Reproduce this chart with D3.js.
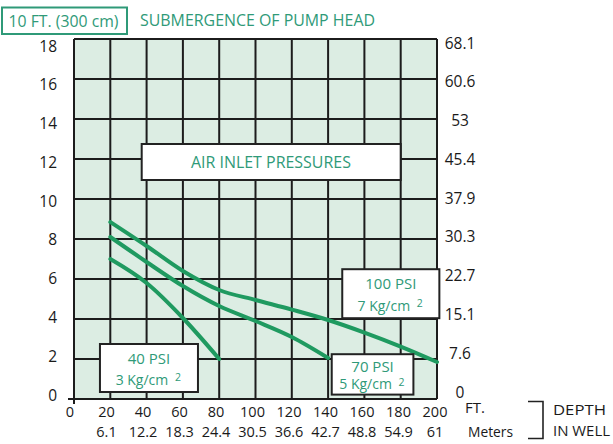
<!DOCTYPE html>
<html>
<head>
<meta charset="utf-8">
<script src="https://cdn.jsdelivr.net/npm/d3@7"></script>
<style>
  html, body { margin: 0; padding: 0; background: #ffffff; }
  svg { display: block; }
  text { font-family: "Open Sans", "Noto Sans", sans-serif; }
</style>
</head>
<body>
<svg id="chart" width="613" height="444"></svg>
<script>
// ---- data ----
const depthFt = [0, 20, 40, 60, 80, 100, 120, 140, 160, 180, 200];
const depthFtLabels = ["0", "20", "40", "60", "80", "100", "120", "140", "160", "180", "200"];
const depthMLabels = ["", "6.1", "12.2", "18.3", "24.4", "30.5", "36.6", "42.7", "48.8", "54.9", "61"];
const headTicks = [0, 2, 4, 6, 8, 10, 12, 14, 16, 18];
const headRightLabels = ["0", "7.6", "15.1", "22.7", "30.3", "37.9", "45.4", "53", "60.6", "68.1"];

const psi40Depth = [20, 40, 60, 80];
const psi40Head = [7.0, 5.8, 4.05, 2.0];
const psi70Depth = [20, 40, 60, 80, 100, 120, 140];
const psi70Head = [8.1, 6.85, 5.65, 4.65, 3.9, 3.1, 2.05];
const psi100Depth = [20, 40, 60, 80, 100, 120, 140, 160, 180, 200];
const psi100Head = [8.85, 7.65, 6.4, 5.45, 4.95, 4.47, 3.95, 3.32, 2.62, 1.85];

const seriesNames = ["40 PSI", "70 PSI", "100 PSI"];
const seriesUnits = ["3 Kg/cm", "5 Kg/cm", "7 Kg/cm"];

// ---- layout ----
const svg = d3.select("#chart");
const x = d3.scaleLinear().domain([0, 200]).range([74, 437]);
const y = d3.scaleLinear().domain([0, 18]).range([399, 39]);
// label placement scales (labels in the original sit slightly off the grid)
const xLab = d3.scaleLinear().domain([0, 200]).range([70, 435]);
const yLabL = d3.scaleLinear().domain([0, 18]).range([395, 46]);
const yLabR = d3.scaleLinear().domain([0, 18]).range([392, 43]);

const teal = "#2f9a78";
const lineGreen = "#1f9a60";
const gridCol = "#1c1c1c";
const ink = "#1a1a1a";

svg.append("rect").attr("width", 613).attr("height", 444).attr("fill", "#fff");

// plot background
svg.append("rect")
  .attr("x", x(0)).attr("y", y(18))
  .attr("width", x(200) - x(0)).attr("height", y(0) - y(18))
  .attr("fill", "#dcede3");

// grid
const g = svg.append("g").attr("stroke", gridCol).attr("stroke-width", 2);
g.selectAll("line.v").data(depthFt).join("line")
  .attr("x1", d => x(d)).attr("x2", d => x(d))
  .attr("y1", y(18)).attr("y2", y(0));
g.selectAll("line.h").data(headTicks).join("line")
  .attr("x1", x(0)).attr("x2", x(200))
  .attr("y1", d => y(d)).attr("y2", d => y(d));
// axis extensions
g.append("line").attr("x1", x(0) - 6).attr("x2", x(0)).attr("y1", y(0)).attr("y2", y(0));
g.append("line").attr("x1", x(0)).attr("x2", x(0)).attr("y1", y(0)).attr("y2", y(0) + 5);

// curves
const lineGen = d3.line().x(d => x(d[0])).y(d => y(d[1])).curve(d3.curveMonotoneX);
const series = [
  d3.zip(psi40Depth, psi40Head),
  d3.zip(psi70Depth, psi70Head),
  d3.zip(psi100Depth, psi100Head)
];
svg.append("g").selectAll("path").data(series).join("path")
  .attr("d", lineGen)
  .attr("fill", "none")
  .attr("stroke", lineGreen)
  .attr("stroke-width", 4)
  .attr("stroke-linecap", "round")
  .attr("stroke-linejoin", "round");

// annotation boxes (positions in data units)
function box(x0, x1, y0, y1) {
  svg.append("rect")
    .attr("x", x(x0)).attr("y", y(y1))
    .attr("width", x(x1) - x(x0)).attr("height", y(y0) - y(y1))
    .attr("fill", "#fff").attr("stroke", "#222").attr("stroke-width", 2);
}
box(37.3, 180, 10.95, 12.75);
svg.append("text").attr("x", x(108.5)).attr("y", y(11.85)).attr("dy", "0.35em")
  .attr("text-anchor", "middle").attr("fill", teal).attr("font-size", 16.5)
  .attr("textLength", 160).attr("lengthAdjust", "spacingAndGlyphs")
  .text("AIR INLET PRESSURES");

const psiBoxes = [
  { x0: 14.3, x1: 68.3, y0: 0.35, y1: 2.75 },
  { x0: 142, x1: 187, y0: 0.22, y1: 2.24 },
  { x0: 147.8, x1: 201.3, y0: 4.04, y1: 6.49 }
];
psiBoxes.forEach((b, i) => {
  box(b.x0, b.x1, b.y0, b.y1);
  const cx = x((b.x0 + b.x1) / 2);
  const top = y(b.y1), bot = y(b.y0);
  const h = bot - top;
  svg.append("text").attr("x", cx).attr("y", top + h * 0.30).attr("dy", "0.35em")
    .attr("text-anchor", "middle").attr("fill", teal).attr("font-size", 15)
    .text(seriesNames[i]);
  svg.append("text").attr("x", cx - 7).attr("y", top + h * 0.75).attr("dy", "0.35em")
    .attr("text-anchor", "middle").attr("fill", teal).attr("font-size", 14)
    .text(seriesUnits[i]);
  svg.append("text").attr("x", cx + 29).attr("y", top + h * 0.70).attr("dy", "0.35em")
    .attr("text-anchor", "middle").attr("fill", teal).attr("font-size", 10.5)
    .text("2");
});

// left axis labels
svg.append("g").selectAll("text").data(headTicks).join("text")
  .attr("x", 57).attr("y", d => yLabL(d)).attr("dy", "0.36em")
  .attr("text-anchor", "end").attr("font-size", 15.5).attr("fill", ink)
  .text(d => d);

// right axis labels
svg.append("g").selectAll("text").data(headTicks).join("text")
  .attr("x", 460).attr("y", d => yLabR(d)).attr("dy", "0.36em")
  .attr("text-anchor", "middle").attr("font-size", 15.5).attr("fill", ink)
  .text((d, i) => headRightLabels[i]);

// bottom labels
svg.append("g").selectAll("text").data(depthFt).join("text")
  .attr("x", d => xLab(d)).attr("y", 411.5).attr("dy", "0.36em")
  .attr("text-anchor", "middle").attr("font-size", 14.5).attr("fill", ink)
  .text((d, i) => depthFtLabels[i]);
svg.append("g").selectAll("text").data(depthFt).join("text")
  .attr("x", d => xLab(d)).attr("y", 431.5).attr("dy", "0.36em")
  .attr("text-anchor", "middle").attr("font-size", 14.5).attr("fill", ink)
  .text((d, i) => depthMLabels[i]);

svg.append("text").attr("x", 465).attr("y", 408).attr("dy", "0.36em")
  .attr("font-size", 15).attr("fill", ink).text("FT.");
svg.append("text").attr("x", 468).attr("y", 431.5).attr("dy", "0.36em")
  .attr("font-size", 15).attr("fill", ink).attr("textLength", 45)
  .attr("lengthAdjust", "spacingAndGlyphs").text("Meters");

// bracket
svg.append("path").attr("d", "M528,401.5 H543 V438.5 H528")
  .attr("fill", "none").attr("stroke", "#222").attr("stroke-width", 1.6);
svg.append("text").attr("x", 553).attr("y", 409.5).attr("dy", "0.36em")
  .attr("font-size", 15).attr("fill", ink).attr("textLength", 53)
  .attr("lengthAdjust", "spacingAndGlyphs").text("DEPTH");
svg.append("text").attr("x", 553).attr("y", 431).attr("dy", "0.36em")
  .attr("font-size", 15).attr("fill", ink).attr("textLength", 57)
  .attr("lengthAdjust", "spacingAndGlyphs").text("IN WELL");

// header
svg.append("rect").attr("x", 2).attr("y", 7.5).attr("width", 125).attr("height", 26.5)
  .attr("fill", "#fff").attr("stroke", teal).attr("stroke-width", 2);
svg.append("text").attr("x", 63.5).attr("y", 21).attr("dy", "0.35em")
  .attr("text-anchor", "middle").attr("font-size", 16.5).attr("fill", teal)
  .attr("textLength", 110).attr("lengthAdjust", "spacingAndGlyphs")
  .text("10 FT. (300 cm)");
svg.append("text").attr("x", 140).attr("y", 20.5).attr("dy", "0.35em")
  .attr("font-size", 16.5).attr("fill", teal)
  .attr("textLength", 235).attr("lengthAdjust", "spacingAndGlyphs")
  .text("SUBMERGENCE OF PUMP HEAD");
</script>
</body>
</html>
